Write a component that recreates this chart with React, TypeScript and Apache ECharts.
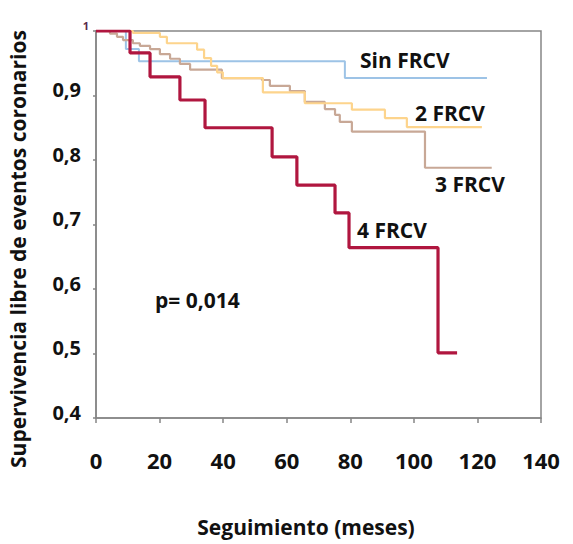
import React, { useEffect, useRef } from "react";
import * as echarts from "echarts";

// Kaplan-Meier step data: [months, survival after event]
const sinFrcv: [number, number][] = [
  [0, 1], [9.4, 0.972], [13.5, 0.953], [78.3, 0.927], [123, 0.927],
];
const frcv2: [number, number][] = [
  [0, 1], [11.6, 0.997], [20.1, 0.991], [22.3, 0.981], [31.8, 0.971], [34.0, 0.958],
  [36.2, 0.946], [38.1, 0.936], [39.9, 0.927], [52.5, 0.905], [65.7, 0.888],
  [80.5, 0.878], [90.9, 0.865], [97.8, 0.851], [121.4, 0.851],
];
const frcv3: [number, number][] = [
  [0, 1], [4.4, 0.996], [6.6, 0.991], [8.5, 0.986], [11.6, 0.981], [13.8, 0.977],
  [17.0, 0.972], [20.1, 0.964], [23.3, 0.957], [26.4, 0.949], [29.6, 0.94],
  [39.6, 0.927], [52.2, 0.924], [54.7, 0.915], [61.0, 0.907], [65.7, 0.89],
  [72.0, 0.879], [75.2, 0.87], [76.7, 0.859], [80.5, 0.844], [103.5, 0.788], [124.5, 0.788],
];
const frcv4: [number, number][] = [
  [0, 1], [10.7, 0.966], [17.0, 0.929], [26.4, 0.893], [34.3, 0.85], [55.4, 0.805],
  [63.2, 0.761], [75.2, 0.718], [79.6, 0.664], [107.6, 0.501], [113.6, 0.501],
];

const xTicks = { min: 0, max: 140, interval: 20 };
const yTicks = { min: 0.4, max: 1, interval: 0.1 };

const FONT = '"Open Sans", "Noto Sans", sans-serif';

export default function App() {
  const ref = useRef<HTMLDivElement>(null);
  useEffect(() => {
    if (!ref.current) return;
    const chart = echarts.init(ref.current, null, { renderer: "svg" });
    const axisColor = "#868686";
    const mk = (name: string, data: [number, number][], color: string, width: number, z: number) => ({
      name,
      type: "line",
      step: "end",
      data,
      showSymbol: false,
      symbol: "none",
      z,
      lineStyle: { color, width },
      emphasis: { disabled: true },
    });
    const label = (text: string, x: number, y: number) => ({
      type: "text", x, y,
      style: { text, font: `bold 21px ${FONT}`, fill: "#111", align: "left", verticalAlign: "middle" },
    });
    chart.setOption({
      animation: false,
      grid: {
        left: 96, right: 32, top: 31, bottom: 126,
        show: true, borderColor: axisColor, borderWidth: 1.5, backgroundColor: "#fff",
      },
      xAxis: {
        type: "value",
        ...xTicks,
        axisLine: { show: true, lineStyle: { color: axisColor, width: 1.5 } },
        axisTick: { show: true, length: 5, lineStyle: { color: axisColor, width: 1.5 } },
        splitLine: { show: false },
        axisLabel: {
          margin: 31,
          color: "#111",
          fontFamily: FONT,
          fontWeight: "bold",
          fontSize: 22,
        },
      },
      yAxis: {
        type: "value",
        ...yTicks,
        axisLine: { show: true, lineStyle: { color: axisColor, width: 1.5 } },
        axisTick: { show: true, length: 3, lineStyle: { color: axisColor, width: 1.5 } },
        splitLine: { show: false },
        axisLabel: {
          margin: 15,
          color: "#111",
          fontFamily: FONT,
          fontWeight: "bold",
          fontSize: 20,
          padding: [0, 0, 12, 0],
          formatter: (v: number) =>
            Math.abs(v - 1) < 1e-9 ? "{s|1}" : v.toFixed(1).replace(".", ","),
          rich: {
            s: { fontSize: 11, fontFamily: FONT, fontWeight: "bold", color: "#5a2a4a", padding: [0, -8, 0, 0] },
          },
        },
      },
      series: [
        mk("Sin FRCV", sinFrcv, "#9DC3E6", 2, 1),
        mk("3 FRCV", frcv3, "#C8A896", 2.2, 2),
        mk("2 FRCV", frcv2, "#FDD48C", 2.2, 3),
        mk("4 FRCV", frcv4, "#B0163F", 3.2, 4),
      ],
      graphic: [
        label("Sin FRCV", 360, 60),
        label("2 FRCV", 415, 113),
        label("3 FRCV", 435, 184),
        label("4 FRCV", 357, 230),
        label("p= 0,014", 155, 300),
        { type: "text", x: 306, y: 527, style: { text: "Seguimiento (meses)", font: `bold 21px ${FONT}`, fill: "#111", align: "center", verticalAlign: "middle" } },
        { type: "text", x: 18, y: 249, rotation: Math.PI / 2, style: { text: "Supervivencia libre de eventos coronarios", font: `bold 21px ${FONT}`, fill: "#111", align: "center", verticalAlign: "middle" } },
      ],
    });
    return () => chart.dispose();
  }, []);
  return (
    <div
      ref={ref}
      style={{ position: "fixed", left: 0, top: 0, width: 573, height: 544, background: "#fff" }}
    />
  );
}
